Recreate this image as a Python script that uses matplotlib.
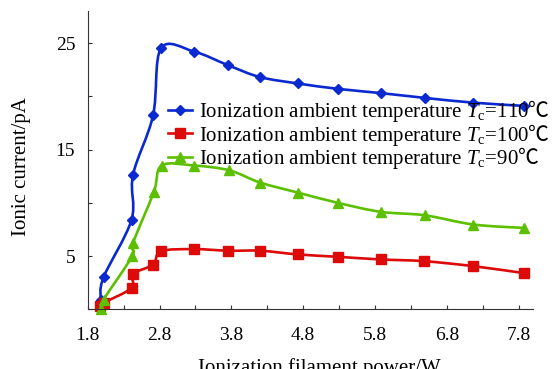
"""
ionic current vs ionization filament power, three ambient temperatures
"""
import numpy as np
import matplotlib
matplotlib.use('Agg')
import matplotlib.pyplot as plt
from matplotlib.path import Path
from matplotlib.patches import PathPatch
from matplotlib.lines import Line2D

plt.rcParams['font.family'] = ['Liberation Serif', 'Noto Sans CJK SC']
plt.rcParams['mathtext.fontset'] = 'custom'
plt.rcParams['mathtext.rm'] = 'Liberation Serif'
plt.rcParams['mathtext.it'] = 'Liberation Serif:italic'
plt.rcParams['mathtext.sf'] = 'Noto Sans CJK SC:light'

# data
power_110 = [1.98, 2.02, 2.41, 2.43, 2.71, 2.82, 3.28, 3.76, 4.20, 4.73, 5.28, 5.88, 6.49, 7.17, 7.87]
current_110 = [0.9, 3.0, 8.4, 12.6, 18.2, 24.5, 24.2, 22.9, 21.8, 21.2, 20.7, 20.3, 19.85, 19.4, 19.1]

power_100 = [1.97, 2.02, 2.41, 2.43, 2.71, 2.82, 3.28, 3.76, 4.20, 4.73, 5.28, 5.88, 6.48, 7.17, 7.87]
current_100 = [0.3, 0.6, 2.0, 3.3, 4.2, 5.45, 5.65, 5.5, 5.5, 5.15, 4.93, 4.68, 4.52, 4.05, 3.4]

power_90 = [1.98, 2.02, 2.42, 2.43, 2.72, 2.83, 3.28, 3.77, 4.20, 4.73, 5.28, 5.88, 6.49, 7.17, 7.87]
current_90 = [0.0, 0.9, 5.0, 6.2, 11.0, 13.5, 13.5, 13.05, 11.9, 10.95, 10.0, 9.15, 8.83, 7.96, 7.64]

labels = ['Ionization ambient temperature $T_{\\rm c}$=110$\\mathsf{\u2103}$',
          'Ionization ambient temperature $T_{\\rm c}$=100$\\mathsf{\u2103}$',
          'Ionization ambient temperature $T_{\\rm c}$=90$\\mathsf{\u2103}$']

x_major = [1.8, 2.8, 3.8, 4.8, 5.8, 6.8, 7.8]
x_minor = [2.3, 3.3, 4.3, 5.3, 6.3, 7.3]
y_major = [5, 15, 25]
y_minor = [0, 10, 20]


def smooth_path(xs, ys):
    # excel style smoothed line: cubic bezier through every point
    p = np.column_stack([xs, ys])
    n = len(p)
    verts = [p[0]]
    codes = [Path.MOVETO]
    for i in range(n - 1):
        p_prev = p[i - 1] if i > 0 else p[i]
        p_next = p[i + 2] if i + 2 < n else p[i + 1]
        c1 = p[i] + (p[i + 1] - p_prev) / 6.0
        c2 = p[i + 1] - (p_next - p[i]) / 6.0
        verts += [c1, c2, p[i + 1]]
        codes += [Path.CURVE4] * 3
    return Path(verts, codes)


fig = plt.figure(figsize=(5.53, 3.69), dpi=100)
ax = fig.add_axes([0.1586, 0.1618, 0.9638 - 0.1586, 0.970 - 0.1618])

series = [
    (power_110, current_110, '#0a2ad0', 'D', 5.0),
    (power_100, current_100, '#dd0a0a', 's', 7.0),
    (power_90, current_90, '#5cc000', '^', 7.5),
]
handles = []
for (xs, ys, color, marker, ms), label in zip(series, labels):
    patch = PathPatch(smooth_path(xs, ys), facecolor='none', edgecolor=color,
                      lw=1.9, transform=ax.transData, capstyle='round')
    ax.add_patch(patch)
    ax.plot(xs, ys, linestyle='none', marker=marker, ms=ms, color=color,
            markeredgecolor=color, clip_on=False)
    handles.append(Line2D([], [], color=color, lw=1.9, marker=marker, ms=ms))

ax.set_xlim(1.8, 8.0)
ax.set_ylim(0, 28)
ax.spines['top'].set_visible(False)
ax.spines['right'].set_visible(False)
for s in ['left', 'bottom']:
    ax.spines[s].set_linewidth(0.8)
    ax.spines[s].set_color('#333333')

ax.set_xticks(x_major)
ax.set_xticks(x_minor, minor=True)
ax.set_xticklabels(['%.1f' % v for v in x_major])
ax.set_yticks(y_major)
ax.set_yticks(y_minor, minor=True)
ax.tick_params(which='both', direction='in', length=3, width=0.8, color='#333333')
ax.tick_params(axis='x', which='major', pad=13, labelsize=14)
ax.tick_params(axis='y', which='major', pad=9, labelsize=14)

leg = ax.legend(handles, labels, loc='upper left', frameon=False,
                bbox_to_anchor=(168 / 553, 1 - 98 / 369), bbox_transform=fig.transFigure,
                borderpad=0, borderaxespad=0, handlelength=1.15, handletextpad=0.35,
                labelspacing=-0.12, fontsize=15)

fig.text(22 / 553, 1 - 167 / 369, 'Ionic current/pA', rotation=90,
         ha='center', va='center', fontsize=15)
fig.text(319 / 553, 1 - 373 / 369, 'Ionization filament power/W',
         ha='center', va='baseline', fontsize=15)

fig.savefig('out.png', dpi=100)
